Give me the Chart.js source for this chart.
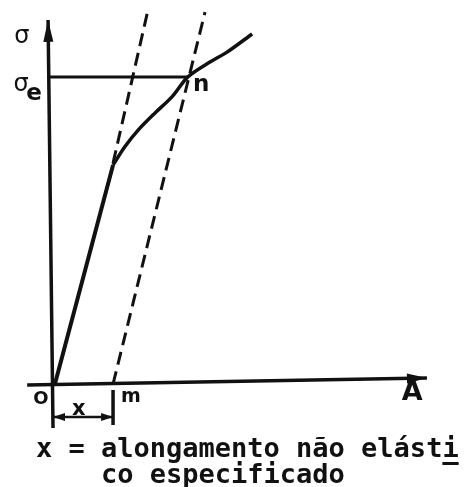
<!DOCTYPE html>
<html>
<head>
<meta charset="utf-8">
<script src="https://cdn.jsdelivr.net/npm/chart.js@4"></script>
<style>
  body { margin: 0; background: #fff; }
  #wrap { width: 469px; height: 487px; }
</style>
</head>
<body>
<div id="wrap"><canvas id="grafico"></canvas></div>
<script>
// Diagrama tensão x alongamento (método do alongamento não elástico especificado)

// curva tensão-alongamento (unidades arbitrárias)
const elasticX = [0.5, 15.8];
const elasticY = [0, 59.2];
const curveX = [15.8, 18.9, 22.4, 26.8, 31.3, 35.5, 41.3, 45.8, 52.4];
const curveY = [59.2, 64.1, 68.6, 73.2, 77.6, 83.0, 87.0, 89.7, 94.6];

// prolongamento da reta elástica e paralela deslocada de x
const extX = [15.8, 25.0];
const extY = [59.7, 101.1];
const offsetX = [15.8, 40.0];
const offsetY = [0, 100.5];

// tensão de escoamento convencional (σe) e alongamento especificado (m)
const yieldStress = 83;
const yieldStrain = 35.5;
const mStrain = 15.8;

// eixos
const axisXX = [-6.8, 98.4];
const axisXY = [-0.3, 1.6];
const axisYX = [0, -1.3];
const axisYY = [-11.9, 98.4];

const pts = (xs, ys) => xs.map((x, i) => ({ x: x, y: ys[i] }));

// rótulos
const labels = [
    { t: 'σ', x: -8.2, y: 93.8, f: '24px "DejaVu Sans"' },
    { t: 'σ', x: -8.4, y: 81.0, f: '24px "DejaVu Sans"' },
    { t: 'e', x: -5.0, y: 78.4, f: 'bold 23px "DejaVu Sans"' },
    { t: 'n', x: 39.0, y: 80.8, f: 'bold 23px "DejaVu Sans"' },
    { t: 'O', x: -3.2, y: -4.1, f: 'bold 18px "DejaVu Sans"' },
    { t: 'm', x: 20.5, y: -3.5, f: 'bold 19px "DejaVu Sans"' },
    { t: 'x', x: 6.8, y: -6.8, f: 'bold 21px "DejaVu Sans"' },
    { t: 'A', x: 94.5, y: -2.4, f: 'bold 27px "DejaVu Sans"' }
];
const caption = ['x = alongamento não elásti', '    co especificado'];

const linha = (data, w, extra) => Object.assign({
    data: data,
    showLine: true,
    borderColor: '#111',
    borderWidth: w,
    pointRadius: 0,
    tension: 0
}, extra || {});

// setas nas pontas das linhas
const setas = {
    id: 'setas',
    afterDatasetsDraw(chart) {
        const ctx = chart.ctx;
        const sx = chart.scales.x, sy = chart.scales.y;
        chart.data.datasets.forEach(ds => {
            if (!ds.arrow) return;
            const p = ds.data.map(d => [sx.getPixelForValue(d.x), sy.getPixelForValue(d.y)]);
            const cabeca = (a, b) => {
                const ang = Math.atan2(b[1] - a[1], b[0] - a[0]);
                const L = ds.arrow.len, W = ds.arrow.half;
                ctx.save();
                ctx.translate(b[0], b[1]);
                ctx.rotate(ang);
                ctx.beginPath();
                ctx.moveTo(0, 0);
                ctx.lineTo(-L, -W);
                ctx.lineTo(-L, W);
                ctx.closePath();
                ctx.fillStyle = '#111';
                ctx.fill();
                ctx.restore();
            };
            const n = p.length;
            cabeca(p[n - 2], p[n - 1]);
            if (ds.arrow.both) cabeca(p[1], p[0]);
        });
    },
    afterDraw(chart) {
        const ctx = chart.ctx;
        const sx = chart.scales.x, sy = chart.scales.y;
        ctx.save();
        ctx.fillStyle = '#111';
        ctx.textAlign = 'center';
        ctx.textBaseline = 'middle';
        labels.forEach(l => {
            ctx.font = l.f;
            ctx.fillText(l.t, sx.getPixelForValue(l.x), sy.getPixelForValue(l.y));
        });
        ctx.textAlign = 'left';
        ctx.textBaseline = 'alphabetic';
        ctx.font = 'bold 27px "DejaVu Sans Mono"';
        ctx.fillText(caption[0], 36, 457);
        ctx.fillText(caption[1], 36, 483);
        // traço de separação silábica sob o "i"
        const w = ctx.measureText('x = alongamento não elást').width;
        const wi = ctx.measureText('i').width;
        ctx.fillRect(36 + w, 462, wi, 3);
        ctx.restore();
    }
};

new Chart(document.getElementById('grafico'), {
    type: 'scatter',
    data: {
        datasets: [
            linha(pts(axisYX, axisYY), 3.5, { arrow: { len: 22, half: 5 } }),
            linha(pts(axisXX, axisXY), 3.5, { arrow: { len: 20, half: 5 } }),
            linha(pts(elasticX, elasticY), 4),
            linha(pts(curveX, curveY), 3.5, { tension: 0.3 }),
            linha(pts(extX, extY), 3, { borderDash: [13, 7] }),
            linha(pts(offsetX, offsetY), 3, { borderDash: [13, 7] }),
            linha(pts([axisYX[0] - 1.3, yieldStrain], [yieldStress, yieldStress]), 3),
            linha(pts([mStrain, mStrain], [-1.6, -11.1]), 3.5),
            linha(pts([0, mStrain], [-8.9, -8.9]), 2.5, { arrow: { len: 12, half: 4, both: true } })
        ]
    },
    options: {
        responsive: true,
        maintainAspectRatio: false,
        animation: false,
        layout: { padding: 0 },
        plugins: {
            legend: { display: false },
            tooltip: { enabled: false }
        },
        scales: {
            x: { type: 'linear', min: -13.95, max: 109.47, display: false },
            y: { type: 'linear', min: -27.84, max: 103.78, display: false }
        }
    },
    plugins: [setas]
});
</script>
</body>
</html>
